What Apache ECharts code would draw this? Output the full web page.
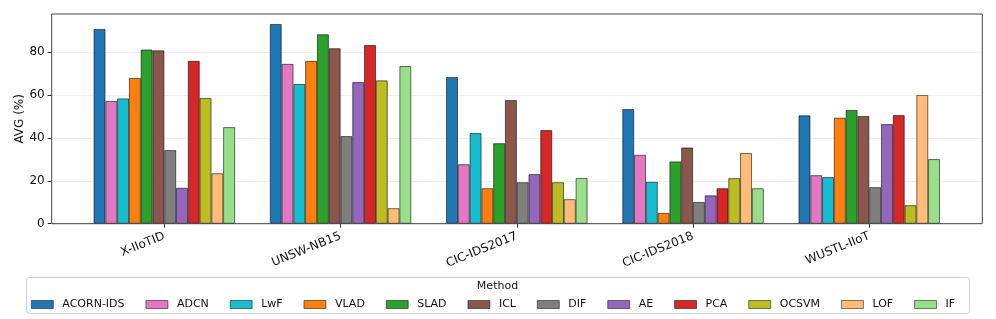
<!DOCTYPE html>
<html>
<head>
<meta charset="utf-8">
<script src="https://cdn.jsdelivr.net/npm/echarts@6/dist/echarts.min.js"></script>
<style>html,body{margin:0;padding:0;background:#fff}#c{width:996px;height:319px}</style>
</head>
<body>
<div id="c"></div>
<script>
const categories = ['X-IIoTID', 'UNSW-NB15', 'CIC-IDS2017', 'CIC-IDS2018', 'WUSTL-IIoT'];
const methods = ['ACORN-IDS','ADCN','LwF','VLAD','SLAD','ICL','DIF','AE','PCA','OCSVM','LOF','IF'];
const acornIds = [90.8, 93.1, 68.4, 53.4, 50.5];
const adcn = [57.2, 74.5, 27.7, 32.1, 22.6];
const lwf = [58.4, 65.1, 42.2, 19.5, 21.7];
const vlad = [67.9, 75.9, 16.5, 5.0, 49.4];
const slad = [81.2, 88.3, 37.5, 29.0, 53.0];
const icl = [80.8, 81.8, 57.6, 35.5, 50.2];
const dif = [34.3, 40.8, 19.3, 10.1, 17.0];
const ae = [16.7, 66.0, 23.1, 13.2, 46.4];
const pca = [75.9, 83.3, 43.6, 16.5, 50.6];
const ocsvm = [58.6, 66.8, 19.3, 21.2, 8.6];
const lof = [23.5, 7.2, 11.4, 32.9, 60.0];
const iforest = [45.0, 73.5, 21.3, 16.5, 30.1];
const yTicks = [0, 20, 40, 60, 80];

const seriesValues = [acornIds, adcn, lwf, vlad, slad, icl, dif, ae, pca, ocsvm, lof, iforest];
const colors = ['#1f77b4','#e377c2','#17becf','#ff7f0e','#2ca02c','#8c564b','#7f7f7f','#9467bd','#d62728','#bcbd22','#ffbb78','#98df8a'];

const FONT = 'DejaVu Sans';
const chart = echarts.init(document.getElementById('c'), null, {renderer: 'canvas'});
const yMax = 97.8;

chart.setOption({
  animation: false,
  backgroundColor: '#fff',
  textStyle: {fontFamily: FONT},
  grid: [
    {left: 76.2, width: 881.2, top: 14, height: 209.7},
    {left: 51.7, width: 930.6, top: 14, height: 209.7, show: true, borderColor: '#444', borderWidth: 1, backgroundColor: 'transparent', z: 3}
  ],
  xAxis: [
    {type: 'category', gridIndex: 0, data: categories,
     axisLine: {show: false},
     axisTick: {show: true, alignWithLabel: true, length: 4, lineStyle: {color: '#333'}},
     axisLabel: {rotate: 22, margin: 12, fontSize: 12, color: '#111', fontFamily: FONT}},
    {type: 'value', gridIndex: 1, min: 0, max: 1, show: false}
  ],
  yAxis: [
    {type: 'value', gridIndex: 0, min: 0, max: yMax, show: false, splitLine: {show: false}},
    {type: 'value', gridIndex: 1, min: 0, max: yMax, interval: 20,
     name: 'AVG (%)', nameLocation: 'middle', nameGap: 26, nameMoveOverlap: false,
     nameTextStyle: {fontSize: 12, color: '#111', fontFamily: FONT},
     axisLine: {show: false},
     axisTick: {show: true, length: 4, lineStyle: {color: '#333'}, customValues: yTicks},
     axisLabel: {fontSize: 12, color: '#111', margin: 7, fontFamily: FONT, customValues: yTicks},
     splitLine: {show: true, lineStyle: {color: '#ebebeb', width: 0.8}}}
  ],
  legend: {
    left: 31, top: 299, padding: 0, itemWidth: 22, itemHeight: 8, itemGap: 21, icon: 'rect',
    textStyle: {fontSize: 11, color: '#111', fontFamily: FONT, padding: [0, 0, 0, 4]},
    itemStyle: {borderWidth: 0.7},
    data: methods
  },
  graphic: [
    {type: 'rect', z: 0, shape: {x: 26.5, y: 277.5, width: 943, height: 36, r: 3},
     style: {fill: '#fff', stroke: '#d0d0d0', lineWidth: 1}},
    {type: 'text', z: 1, x: 497.5, y: 286,
     style: {text: 'Method', fontSize: 11, fontFamily: FONT, fill: '#111', align: 'center', verticalAlign: 'middle'}}
  ],
  series: methods.map((m, i) => ({
    name: m, type: 'bar', xAxisIndex: 0, yAxisIndex: 0,
    data: seriesValues[i], barWidth: 11.78, barGap: '0%',
    itemStyle: {color: colors[i], borderColor: 'rgba(0,0,0,0.7)', borderWidth: 0.8}
  }))
});
</script>
</body>
</html>
